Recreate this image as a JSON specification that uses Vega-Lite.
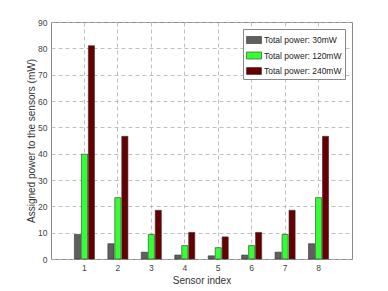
{
  "$schema": "https://vega.github.io/schema/vega-lite/v6.json",
  "width": 301,
  "height": 237,
  "autosize": {"type": "none"},
  "padding": {"left": 51, "top": 22, "right": 36, "bottom": 32},
  "background": "white",
  "config": {
    "font": "Liberation Sans",
    "view": {"stroke": "#8a8a8a", "strokeWidth": 1}
  },
  "data": {
    "values": [
      {"sensor": 1, "series": "Total power: 30mW", "power": 9.3},
      {"sensor": 2, "series": "Total power: 30mW", "power": 5.8},
      {"sensor": 3, "series": "Total power: 30mW", "power": 2.6},
      {"sensor": 4, "series": "Total power: 30mW", "power": 1.5},
      {"sensor": 5, "series": "Total power: 30mW", "power": 1.2},
      {"sensor": 6, "series": "Total power: 30mW", "power": 1.5},
      {"sensor": 7, "series": "Total power: 30mW", "power": 2.6},
      {"sensor": 8, "series": "Total power: 30mW", "power": 5.8},
      {"sensor": 1, "series": "Total power: 120mW", "power": 39.8},
      {"sensor": 2, "series": "Total power: 120mW", "power": 23.3},
      {"sensor": 3, "series": "Total power: 120mW", "power": 9.3},
      {"sensor": 4, "series": "Total power: 120mW", "power": 5.1},
      {"sensor": 5, "series": "Total power: 120mW", "power": 4.3},
      {"sensor": 6, "series": "Total power: 120mW", "power": 5.1},
      {"sensor": 7, "series": "Total power: 120mW", "power": 9.3},
      {"sensor": 8, "series": "Total power: 120mW", "power": 23.3},
      {"sensor": 1, "series": "Total power: 240mW", "power": 81},
      {"sensor": 2, "series": "Total power: 240mW", "power": 46.6},
      {"sensor": 3, "series": "Total power: 240mW", "power": 18.5},
      {"sensor": 4, "series": "Total power: 240mW", "power": 10.1},
      {"sensor": 5, "series": "Total power: 240mW", "power": 8.4},
      {"sensor": 6, "series": "Total power: 240mW", "power": 10.1},
      {"sensor": 7, "series": "Total power: 240mW", "power": 18.5},
      {"sensor": 8, "series": "Total power: 240mW", "power": 46.6}
    ]
  },
  "mark": {"type": "bar", "stroke": "#333333", "strokeWidth": 0.6},
  "encoding": {
    "x": {
      "field": "sensor",
      "type": "ordinal",
      "scale": {"paddingInner": 0.4, "paddingOuter": 0.7},
      "axis": {
        "title": "Sensor index",
        "titleFontSize": 10,
        "titleFontWeight": "normal",
        "titleColor": "#333333",
        "titlePadding": 4,
        "labelAngle": 0,
        "labelFontSize": 8.5,
        "labelColor": "#444444",
        "labelPadding": 4,
        "ticks": false,
        "domain": false,
        "tickBand": "center",
        "grid": true,
        "gridColor": "#b0b0b0",
        "gridDash": [4, 3],
        "gridWidth": 0.8
      }
    },
    "xOffset": {
      "field": "series",
      "type": "nominal",
      "scale": {
        "domain": ["Total power: 30mW", "Total power: 120mW", "Total power: 240mW"],
        "paddingInner": 0.12
      }
    },
    "y": {
      "field": "power",
      "type": "quantitative",
      "scale": {"domain": [0, 90], "nice": false},
      "axis": {
        "title": "Assigned power to the sensors (mW)",
        "titleFontSize": 10,
        "titleFontWeight": "normal",
        "titleColor": "#333333",
        "titlePadding": 1,
        "values": [0, 10, 20, 30, 40, 50, 60, 70, 80, 90],
        "labelFontSize": 8.5,
        "labelColor": "#444444",
        "labelPadding": 4,
        "ticks": false,
        "domain": false,
        "grid": true,
        "gridColor": "#b0b0b0",
        "gridDash": [4, 3],
        "gridWidth": 0.8
      }
    },
    "color": {
      "field": "series",
      "type": "nominal",
      "scale": {
        "domain": ["Total power: 30mW", "Total power: 120mW", "Total power: 240mW"],
        "range": ["#5f5f5f", "#33ff33", "#660000"]
      },
      "legend": {
        "title": null,
        "orient": "top-right",
        "offset": 7,
        "padding": 3,
        "fillColor": "white",
        "strokeColor": "#888888",
        "symbolType": "M-1,-0.47H1V0.47H-1Z",
        "symbolSize": 225,
        "symbolStrokeColor": "#333333",
        "symbolStrokeWidth": 0.6,
        "labelFontSize": 8.5,
        "labelColor": "#222222",
        "labelOffset": 2,
        "rowPadding": 2.5
      }
    }
  }
}
